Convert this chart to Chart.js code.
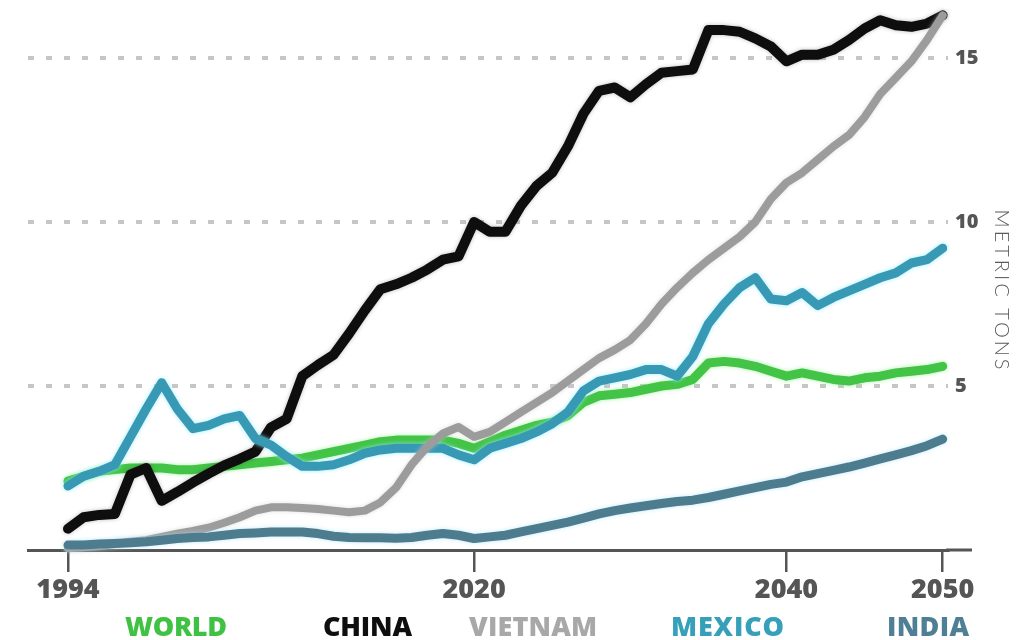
<!DOCTYPE html>
<html>
<head>
<meta charset="utf-8">
<script src="https://cdn.jsdelivr.net/npm/chart.js@4.4.1/dist/chart.umd.min.js"></script>
<style>
html,body{margin:0;padding:0;background:#fff;}
#wrap{position:relative;width:1028px;height:640px;}
</style>
</head>
<body>
<div id="wrap"><canvas id="c"></canvas></div>
<script>
// ---------- DATA ----------
const years = [1994,1995,1996,1997,1998,1999,2000,2001,2002,2003,
               2004,2005,2006,2007,2008,2009,2010,2011,2012,2013,
               2014,2015,2016,2017,2018,2019,2020,2021,2022,2023,
               2024,2025,2026,2027,2028,2029,2030,2031,2032,2033,
               2034,2035,2036,2037,2038,2039,2040,2041,2042,2043,
               2044,2045,2046,2047,2048,2049,2050];

const world   = [2.1,2.25,2.4,2.45,2.5,2.5,2.5,2.45,2.45,2.5,
                 2.55,2.6,2.65,2.7,2.75,2.8,2.9,3.0,3.1,3.2,
                 3.3,3.35,3.35,3.35,3.35,3.25,3.1,3.3,3.5,3.65,
                 3.8,3.9,4.1,4.5,4.7,4.75,4.8,4.9,5.0,5.05,
                 5.2,5.7,5.75,5.7,5.6,5.45,5.3,5.4,5.3,5.2,
                 5.15,5.25,5.3,5.4,5.45,5.5,5.6];

const china   = [0.65,1.0,1.07,1.1,2.3,2.5,1.5,1.77,2.06,2.33,
                 2.58,2.78,3.0,3.74,4.0,5.3,5.64,5.95,6.6,7.3,
                 7.95,8.1,8.3,8.55,8.85,8.95,10.0,9.7,9.7,10.5,
                 11.1,11.5,12.3,13.3,14.0,14.1,13.8,14.2,14.55,14.6,
                 14.65,15.85,15.85,15.8,15.6,15.35,14.9,15.1,15.1,15.25,
                 15.55,15.9,16.15,16.0,15.95,16.05,16.3];

const vietnam = [0.05,0.08,0.12,0.18,0.25,0.3,0.4,0.5,0.58,0.68,
                 0.83,1.0,1.2,1.3,1.3,1.28,1.25,1.2,1.15,1.2,
                 1.45,1.9,2.6,3.15,3.55,3.75,3.45,3.6,3.9,4.2,
                 4.5,4.8,5.15,5.5,5.85,6.1,6.4,6.9,7.5,8.0,
                 8.45,8.85,9.2,9.55,10.0,10.7,11.2,11.5,11.9,12.3,
                 12.65,13.2,13.9,14.4,14.9,15.55,16.3];

const mexico  = [1.95,2.25,2.4,2.6,3.45,4.3,5.1,4.3,3.7,3.8,
                 4.0,4.1,3.4,3.2,2.85,2.55,2.55,2.6,2.75,2.95,
                 3.05,3.1,3.1,3.1,3.1,2.9,2.75,3.1,3.25,3.4,
                 3.6,3.85,4.2,4.85,5.15,5.25,5.35,5.5,5.5,5.3,
                 5.9,6.9,7.5,8.0,8.3,7.65,7.6,7.85,7.45,7.7,
                 7.9,8.1,8.3,8.45,8.75,8.85,9.2];

const india   = [0.15,0.15,0.18,0.2,0.22,0.25,0.3,0.35,0.38,0.4,
                 0.45,0.5,0.52,0.55,0.55,0.55,0.5,0.42,0.38,0.37,
                 0.37,0.36,0.38,0.45,0.5,0.45,0.35,0.4,0.45,0.55,
                 0.65,0.75,0.85,0.97,1.1,1.2,1.28,1.35,1.42,1.48,
                 1.52,1.6,1.7,1.8,1.9,2.0,2.07,2.23,2.33,2.43,
                 2.53,2.65,2.78,2.9,3.03,3.18,3.38];

const seriesNames = ['WORLD','CHINA','VIETNAM','MEXICO','INDIA'];
const xTickValues = [1994,2020,2040,2050];
const yTickValues = [5,10,15];
const yAxisTitle  = 'METRIC TONS';

// ---------- STYLE ----------
const colors = {
  WORLD:'#43c447', CHINA:'#0e0e0e', VIETNAM:'#9c9c9c', MEXICO:'#3799b4', INDIA:'#4d7c8f'
};
const glow = {
  WORLD:'rgba(150,240,150,0.8)', CHINA:'rgba(0,0,0,0.25)', VIETNAM:'rgba(200,200,200,0.6)',
  MEXICO:'rgba(150,235,255,0.9)', INDIA:'rgba(170,225,245,0.7)'
};
const legendColors = {
  WORLD:'#3fc243', CHINA:'#0e0e0e', VIETNAM:'#a8a8a8', MEXICO:'#36a0ba', INDIA:'#4e7f94'
};
const legendBoxes = [[125,102],[323,89],[469,128],[671,113],[887,82]];
const heavy = '"Open Sans", "Noto Sans", sans-serif';

const seriesData = [world, china, vietnam, mexico, india];
const drawOrder = [5, 4, 2, 3, 1];
const widths = [9, 10, 8, 9, 9];

const datasets = seriesNames.map((name, i) => ({
  label: name,
  data: seriesData[i].map((v, j) => ({x: years[j], y: v})),
  borderColor: colors[name],
  borderWidth: widths[i],
  pointRadius: 0,
  tension: 0,
  fill: false,
  borderJoinStyle: 'round',
  borderCapStyle: 'round',
  order: drawOrder[i],
  clip: false
}));

const extras = {
  id: 'extras',
  beforeDatasetDraw(chart, args) {
    const name = chart.data.datasets[args.index].label;
    const ctx = chart.ctx;
    ctx.save();
    ctx.shadowColor = glow[name];
    ctx.shadowBlur = 4;
  },
  afterDatasetDraw(chart) {
    chart.ctx.restore();
  },
  afterDraw(chart) {
    const ctx = chart.ctx, ca = chart.chartArea, ys = chart.scales.y;
    ctx.save();
    const y0 = ys.getPixelForValue(0);
    ctx.strokeStyle = '#555';
    ctx.lineWidth = 3;
    ctx.beginPath();
    ctx.moveTo(ca.right - 2, y0);
    ctx.lineTo(ca.right + 24, y0);
    ctx.stroke();
    ctx.restore();

    ctx.save();
    ctx.translate(1001, 291);
    ctx.rotate(Math.PI / 2);
    ctx.font = '300 20px Lato, "Open Sans", sans-serif';
    try { ctx.letterSpacing = '3px'; } catch (e) {}
    ctx.fillStyle = '#5a5a5a';
    ctx.textAlign = 'center';
    ctx.textBaseline = 'middle';
    ctx.fillText(yAxisTitle, 0, 0);
    ctx.restore();

    ctx.save();
    ctx.font = '800 27px ' + heavy;
    ctx.textAlign = 'left';
    ctx.textBaseline = 'alphabetic';
    seriesNames.forEach((name, i) => {
      const [left, w] = legendBoxes[i];
      ctx.fillStyle = legendColors[name];
      try { ctx.letterSpacing = '0px'; } catch (e) {}
      const mw = ctx.measureText(name).width;
      const n = name.length;
      const sp = Math.max(-1.5, Math.min(2, (w - mw) / (n - 1)));
      try { ctx.letterSpacing = sp.toFixed(2) + 'px'; } catch (e) {}
      ctx.fillText(name, left, 636);
    });
    ctx.restore();
  }
};

new Chart(document.getElementById('c'), {
  type: 'line',
  data: { datasets },
  options: {
    responsive: true,
    maintainAspectRatio: false,
    animation: false,
    events: [],
    layout: { padding: { left: 28, top: 6, right: 0, bottom: 0 } },
    plugins: { legend: { display: false }, tooltip: { enabled: false } },
    scales: {
      x: {
        type: 'linear',
        min: 1991.44,
        max: 2050.34,
        afterBuildTicks: (s) => { s.ticks = xTickValues.map(v => ({ value: v })); },
        afterFit: (s) => { s.height = 90; s.paddingLeft = 0; s.paddingRight = 0; },
        grid: {
          drawOnChartArea: false,
          drawTicks: true,
          tickLength: 22,
          tickColor: '#555',
          lineWidth: 2.5
        },
        border: { display: true, color: '#555', width: 3 },
        ticks: {
          autoSkip: false,
          maxRotation: 0,
          padding: 2,
          color: '#555',
          font: { family: heavy, weight: '800', size: 27 },
          callback: (v) => String(v)
        }
      },
      y: {
        type: 'linear',
        position: 'right',
        min: 0,
        max: 16.585,
        afterBuildTicks: (s) => { s.ticks = yTickValues.map(v => ({ value: v })); },
        afterFit: (s) => { s.width = 80; s.paddingTop = 0; s.paddingBottom = 0; },
        grid: {
          drawTicks: false,
          color: '#c6c6c6',
          lineWidth: 4
        },
        border: { display: false, dash: [6, 12] },
        ticks: {
          padding: 7,
          color: '#555',
          font: { family: heavy, weight: '800', size: 20 },
          callback: (v) => String(v)
        }
      }
    }
  },
  plugins: [extras]
});
</script>
</body>
</html>
